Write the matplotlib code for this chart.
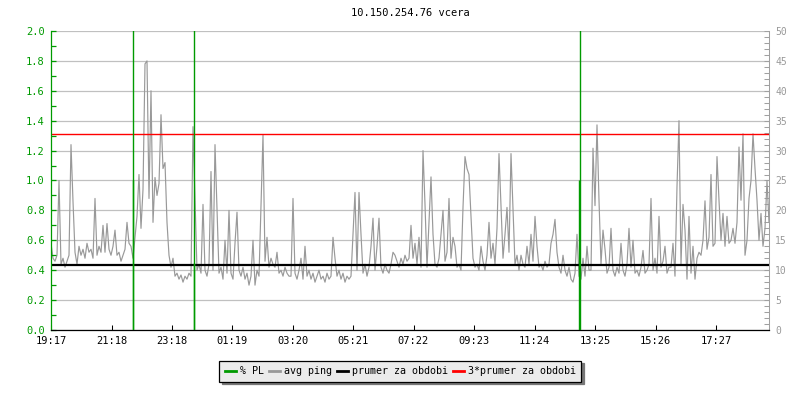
import matplotlib
matplotlib.use("Agg")
import matplotlib.pyplot as plt
import numpy as np
from matplotlib.ticker import MultipleLocator, FormatStrFormatter

plt.rcParams["font.family"] = ["DejaVu Sans Mono"]
plt.rcParams["font.size"] = 7

titulek = "10.150.254.76 vcera"
start = "19:17"
krok_min = 4          # ping vzorek kazde 4 minuty
konec_min = 1436

# avg ping [ms]
ping = [
    14.5, 12.0, 11.5, 12.5, 25.0, 11.0, 12.0, 10.5, 11.5, 12.5,
    31.0, 21.5, 13.0, 11.0, 14.0, 12.5, 13.5, 12.0, 14.5, 13.0,
    13.5, 12.0, 22.0, 12.5, 14.0, 13.0, 17.5, 13.0, 17.8, 13.5,
    12.5, 14.0, 16.7, 12.5, 13.0, 11.5, 12.5, 13.5, 18.0, 14.5,
    14.0, 12.0, 15.5, 19.0, 26.0, 17.0, 23.5, 44.5, 45.0, 22.0,
    40.0, 18.0, 25.5, 22.5, 24.5, 36.0, 27.0, 28.0, 18.0, 12.5,
    10.5, 12.0, 9.0, 9.5, 8.5, 9.2, 8.0, 9.0, 8.5, 9.5,
    9.0, 34.0, 22.0, 10.0, 11.0, 9.5, 21.0, 10.0, 9.0, 11.0,
    26.5, 10.0, 31.0, 20.0, 9.5, 10.5, 8.5, 15.0, 9.5, 20.0,
    9.5, 8.5, 14.5, 19.7, 10.0, 9.0, 10.5, 8.5, 9.5, 7.5,
    9.0, 15.0, 7.5, 10.0, 9.0, 20.5, 32.6, 11.5, 15.5, 10.5,
    12.0, 11.0, 10.5, 13.0, 9.5, 10.0, 9.0, 10.5, 9.5, 9.0,
    9.0, 22.0, 9.5, 8.5, 10.0, 12.0, 8.5, 14.0, 9.0, 10.0,
    8.5, 9.5, 8.0, 9.0, 10.0, 8.5, 9.0, 8.0, 9.5, 8.5,
    9.0, 15.5, 12.0, 9.0, 10.0, 8.5, 9.5, 8.0, 9.0, 8.5,
    9.0, 16.0, 23.0, 10.0, 23.0, 16.0, 9.5, 11.0, 9.0, 10.5,
    14.0, 18.7, 10.0, 14.0, 18.7, 10.5, 9.5, 11.0, 10.0, 9.5,
    11.0, 13.0, 12.5, 11.5, 10.5, 12.0, 11.0, 12.5, 11.5, 12.0,
    17.5, 12.0, 14.5, 11.0, 15.5, 10.5, 30.0, 21.0, 10.5, 18.0,
    25.6, 16.0, 11.0, 10.5, 12.0, 16.0, 20.0, 11.5, 13.0, 22.0,
    12.0, 15.5, 14.0, 10.5, 11.0, 10.0, 20.5, 29.0, 27.0, 26.0,
    19.0, 12.0, 10.5, 11.0, 10.0, 14.0, 11.5, 10.0, 12.5, 18.0,
    12.0, 14.5, 11.0, 17.0, 29.5, 20.5, 12.0, 16.0, 20.5, 13.0,
    29.5, 20.5, 11.0, 12.5, 10.0, 12.5, 11.0, 10.5, 14.0, 11.0,
    16.0, 11.5, 19.0, 14.0, 10.5, 11.0, 10.0, 11.5, 10.5, 11.0,
    14.5, 16.0, 18.5, 13.0, 10.5, 9.5, 12.5, 10.0, 9.0, 10.5,
    8.5, 8.0, 9.5, 16.0, 9.0, 8.5, 12.0, 9.0, 14.0, 10.0,
    10.0, 30.4, 20.8, 34.3, 21.7, 11.0, 16.7, 13.5, 9.5, 10.5,
    17.0, 10.0, 9.0, 10.5, 9.5, 14.5, 10.0, 9.0, 11.0, 17.0,
    10.5, 15.0, 9.5, 10.0, 9.0, 10.5, 13.3, 9.5, 10.0, 11.0,
    22.0, 10.0, 12.0, 9.5, 19.0, 10.5, 11.5, 14.0, 9.5, 10.5,
    10.5, 14.5, 9.0, 24.0, 35.0, 11.0, 21.0, 16.7, 8.5, 19.0,
    9.5, 14.0, 8.5, 12.0, 13.0, 12.5, 15.0, 21.6, 13.5, 15.5,
    26.0, 14.0, 14.5, 29.0, 21.7, 15.0, 19.5, 14.0, 19.0, 14.5,
    15.0, 17.0, 14.5, 18.0, 30.6, 21.7, 32.8, 12.5, 15.0, 22.0,
    25.0, 32.8, 27.0, 21.7, 15.0, 19.5, 14.0, 17.0, 25.0, 18.0,
]
prumer = 10.93   # prumer za obdobi [ms]

# packet loss [%]
pl_casy = ["22:00", "22:01", "00:02", "00:03", "12:53", "12:54"]
pl_hodnoty = [1.0, 2.5, 2.5, 0.45, 1.0, 2.5]

popisky_x = ["19:17", "21:18", "23:18", "01:19", "03:20", "05:21",
             "07:22", "09:23", "11:24", "13:25", "15:26", "17:27"]

ZELENA = "#009a00"
SEDA = "#999999"
SEDA_OSA = "#a0a0a0"


def minuty(cas):
    h, m = map(int, cas.split(":"))
    h0, m0 = map(int, start.split(":"))
    return ((h * 60 + m) - (h0 * 60 + m0)) % 1440


x_ping = np.arange(len(ping)) * krok_min
x_pl = np.array([minuty(c) for c in pl_casy])
x_ticky = [minuty(c) for c in popisky_x]

fig = plt.figure(figsize=(8, 4), dpi=100)
ax = fig.add_axes([51 / 800, 1 - 330 / 400, 718 / 800, 299 / 400])
ax2 = ax.twinx()
ax.set_zorder(ax2.get_zorder() + 1)
ax.patch.set_visible(False)

# ping a prumery na prave ose
ax2.plot(x_ping, ping, color=SEDA, lw=0.85, zorder=2)
ax2.axhline(prumer, color="black", lw=1.6, zorder=3)
ax2.axhline(3 * prumer, color="red", lw=1.0, zorder=3)
ax2.set_ylim(0, 50)
ax2.yaxis.set_major_locator(MultipleLocator(5))
ax2.yaxis.set_minor_locator(MultipleLocator(1))
ax2.yaxis.grid(True, color="#c0c0c0", lw=0.9)
ax2.set_axisbelow(True)
ax2.tick_params(axis="y", which="both", direction="in", colors=SEDA_OSA,
                labelcolor=SEDA, length=3.5, width=0.75, pad=4.5, labelsize=7)
for s in ["top", "left", "bottom"]:
    ax2.spines[s].set_visible(False)
ax2.spines["right"].set_color(SEDA_OSA)
ax2.spines["right"].set_linewidth(0.75)

# packet loss na leve ose
ax.vlines(x_pl, 0, pl_hodnoty, color=ZELENA, lw=1.0, zorder=4)
ax.set_ylim(0, 2)
ax.set_xlim(0, konec_min)
ax.yaxis.set_major_locator(MultipleLocator(0.2))
ax.yaxis.set_minor_locator(MultipleLocator(0.1))
ax.yaxis.set_major_formatter(FormatStrFormatter("%.1f"))
ax.tick_params(axis="y", which="both", direction="in", colors=ZELENA,
               length=3.5, width=0.9, pad=4.5, labelsize=7.5)
ax.set_xticks(x_ticky)
ax.set_xticklabels(popisky_x)
ax.tick_params(axis="x", direction="in", length=3.5, width=0.75, pad=4, labelsize=7.5)
ax.spines["top"].set_visible(False)
ax.spines["right"].set_visible(False)
ax.spines["left"].set_color(ZELENA)
ax.spines["left"].set_linewidth(0.9)
ax.spines["bottom"].set_linewidth(0.9)

ax.set_title(titulek, fontsize=7.5, pad=11)

handles = [
    plt.Line2D([], [], color=ZELENA, lw=2),
    plt.Line2D([], [], color=SEDA, lw=2),
    plt.Line2D([], [], color="black", lw=2),
    plt.Line2D([], [], color="red", lw=2),
]
labely = ["% PL", "avg ping", "prumer za obdobi", "3*prumer za obdobi"]
leg = fig.legend(handles, labely, loc="center", bbox_to_anchor=(0.5, 0.072),
                 ncol=4, fontsize=7.2, frameon=True, fancybox=False,
                 shadow={"color": "#777777", "alpha": 1},
                 facecolor="#ebebeb", edgecolor="black", framealpha=1,
                 handlelength=1.1, handletextpad=0.4, columnspacing=0.5,
                 borderpad=0.55, borderaxespad=0)
leg.get_frame().set_linewidth(0.9)

fig.savefig("out.png", dpi=100)
